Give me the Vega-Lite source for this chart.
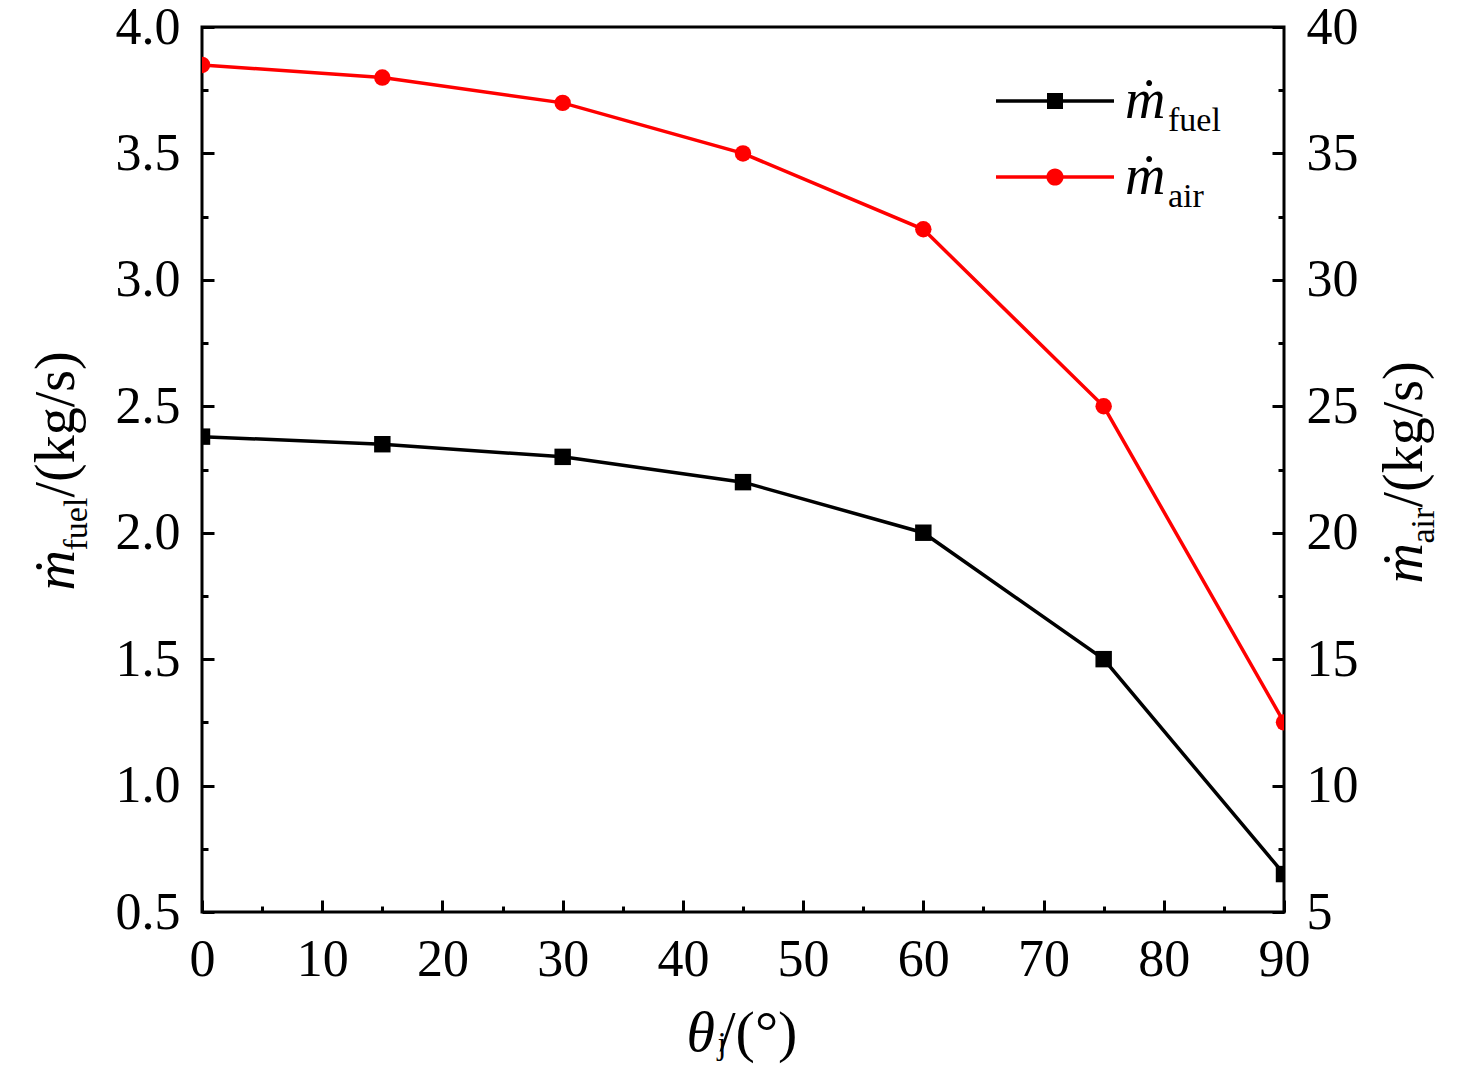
{
  "$schema": "https://vega.github.io/schema/vega-lite/v6.json",
  "autosize": {"type": "none"},
  "width": 1082,
  "height": 885,
  "padding": {"left": 202, "top": 27, "right": 192, "bottom": 159},
  "background": "#ffffff",
  "config": {
    "font": "Liberation Serif",
    "view": {"stroke": "#000000", "strokeWidth": 3},
    "axis": {
      "labelFont": "Liberation Serif",
      "labelFontSize": 52,
      "labelColor": "#000000",
      "tickColor": "#000000",
      "tickWidth": 3,
      "domain": false,
      "grid": false,
      "labelFlush": false,
      "labelOverlap": false,
      "titleFont": "Liberation Serif",
      "titleFontWeight": "normal",
      "titleColor": "#000000",
      "titleAlign": "left",
      "titleBaseline": "alphabetic"
    },
    "legend": {"labelColor": "#000000"}
  },
  "data": {
    "values": [
      {"theta": 0, "series": "fuel", "value": 2.38},
      {"theta": 15, "series": "fuel", "value": 2.35},
      {"theta": 30, "series": "fuel", "value": 2.30},
      {"theta": 45, "series": "fuel", "value": 2.20},
      {"theta": 60, "series": "fuel", "value": 2.00},
      {"theta": 75, "series": "fuel", "value": 1.50},
      {"theta": 90, "series": "fuel", "value": 0.65},
      {"theta": 0, "series": "air", "value": 38.5},
      {"theta": 15, "series": "air", "value": 38.0},
      {"theta": 30, "series": "air", "value": 37.0},
      {"theta": 45, "series": "air", "value": 35.0},
      {"theta": 60, "series": "air", "value": 32.0},
      {"theta": 75, "series": "air", "value": 25.0},
      {"theta": 90, "series": "air", "value": 12.5}
    ]
  },
  "layer": [
    {
      "transform": [{"filter": "datum.series == 'fuel'"}],
      "mark": {"type": "line", "color": "#000000", "strokeWidth": 3.5, "clip": true},
      "encoding": {
        "x": {"field": "theta", "type": "quantitative",
          "scale": {"domain": [0, 90], "nice": false, "zero": false},
          "axis": {"orient": "bottom", "values": [0, 10, 20, 30, 40, 50, 60, 70, 80, 90], "tickSize": -12, "labelPadding": 34,
            "title": "θ", "titleFontStyle": "italic", "titleFontSize": 58, "titleX": 484, "titleY": 138, "titleAngle": 0}},
        "y": {"field": "value", "type": "quantitative",
          "scale": {"domain": [0.5, 4], "nice": false, "zero": false},
          "axis": {"orient": "left", "values": [0.5, 1, 1.5, 2, 2.5, 3, 3.5, 4], "format": ".1f", "tickSize": -12, "labelPadding": 34,
            "title": "ṁ", "titleFontStyle": "italic", "titleFontSize": 56, "titleX": -129, "titleY": 563, "titleAngle": -90}},
        "opacity": {"field": "series", "type": "nominal", "sort": "descending", "scale": {"range": [1, 1]},
          "legend": {"title": null, "orient": "none", "legendX": 932, "legendY": 77, "padding": 0,
            "labelFont": "Liberation Serif", "labelFontSize": 34, "labelFontStyle": "normal", "labelBaseline": "middle",
            "symbolSize": 0, "symbolStrokeWidth": 0, "symbolOpacity": 0, "labelOffset": 0, "rowPadding": 42}}
      }
    },
    {
      "transform": [{"filter": "datum.series == 'fuel'"}],
      "mark": {"type": "point", "shape": "square", "filled": true, "size": 270, "opacity": 1, "clip": true},
      "encoding": {
        "x": {"field": "theta", "type": "quantitative",
          "scale": {"domain": [0, 90], "nice": false, "zero": false},
          "axis": {"orient": "bottom", "values": [5, 15, 25, 35, 45, 55, 65, 75, 85], "tickSize": -6, "labels": false,
            "title": "j", "titleFontStyle": "normal", "titleFontSize": 32, "titleX": 515, "titleY": 141, "titleAngle": 0}},
        "y": {"field": "value", "type": "quantitative",
          "scale": {"domain": [0.5, 4], "nice": false, "zero": false},
          "axis": {"orient": "left", "values": [0.75, 1.25, 1.75, 2.25, 2.75, 3.25, 3.75], "tickSize": -6, "labels": false,
            "title": "fuel", "titleFontStyle": "normal", "titleFontSize": 34, "titleX": -116, "titleY": 523, "titleAngle": -90}},
        "color": {"field": "series", "type": "nominal",
          "scale": {"domain": ["fuel", "air"], "range": ["#000000", "#ff0000"]},
          "legend": {"title": null, "orient": "none", "legendX": 825, "legendY": 46, "padding": 0,
            "symbolType": {"expr": "datum.value == 'fuel' ? 'M-2.95,-0.09H2.95V0.09H-2.95ZM-0.4,-0.4H0.4V0.4H-0.4Z' : 'M-2.95,-0.09H2.95V0.09H-2.95ZM-0.43,0A0.43,0.43 0 1,1 0.43,0A0.43,0.43 0 1,1 -0.43,0Z'"},
            "symbolSize": 1600, "symbolStrokeWidth": 0, "symbolOpacity": 1,
            "labelExpr": "'ṁ'", "labelFont": "Liberation Serif", "labelFontSize": 56, "labelFontStyle": "italic",
            "labelOffset": 42, "rowPadding": 20}}
      }
    },
    {
      "transform": [{"filter": "datum.series == 'air'"}],
      "mark": {"type": "line", "color": "#ff0000", "strokeWidth": 3.5, "clip": true},
      "encoding": {
        "x": {"field": "theta", "type": "quantitative",
          "scale": {"domain": [0, 90], "nice": false, "zero": false},
          "axis": {"orient": "bottom", "ticks": false, "labels": false, "domain": false,
            "title": "/(°)", "titleFontStyle": "normal", "titleFontSize": 58, "titleX": 517, "titleY": 138, "titleAngle": 0}},
        "y": {"field": "value", "type": "quantitative",
          "scale": {"domain": [5, 40], "nice": false, "zero": false},
          "axis": {"orient": "right", "values": [5, 10, 15, 20, 25, 30, 35, 40], "tickSize": -12, "labelPadding": 34,
            "title": "ṁ", "titleFontStyle": "italic", "titleFontSize": 56, "titleX": 137, "titleY": 556, "titleAngle": -90}},
        "opacity": {"field": "series", "type": "nominal", "sort": "descending", "scale": {"range": [1, 1]},
          "legend": {"title": null, "orient": "none", "legendX": 932, "legendY": 77, "padding": 0,
            "labelFont": "Liberation Serif", "labelFontSize": 34, "labelFontStyle": "normal", "labelBaseline": "middle",
            "symbolSize": 0, "symbolStrokeWidth": 0, "symbolOpacity": 0, "labelOffset": 0, "rowPadding": 42}}
      }
    },
    {
      "transform": [{"filter": "datum.series == 'air'"}],
      "mark": {"type": "point", "shape": "circle", "filled": true, "size": 270, "opacity": 1, "clip": true},
      "encoding": {
        "x": {"field": "theta", "type": "quantitative",
          "scale": {"domain": [0, 90], "nice": false, "zero": false}, "axis": null},
        "y": {"field": "value", "type": "quantitative",
          "scale": {"domain": [5, 40], "nice": false, "zero": false},
          "axis": {"orient": "right", "values": [7.5, 12.5, 17.5, 22.5, 27.5, 32.5, 37.5], "tickSize": -6, "labels": false,
            "title": "air", "titleFontStyle": "normal", "titleFontSize": 34, "titleX": 149, "titleY": 516, "titleAngle": -90}},
        "color": {"field": "series", "type": "nominal",
          "scale": {"domain": ["fuel", "air"], "range": ["#000000", "#ff0000"]},
          "legend": {"title": null, "orient": "none", "legendX": 825, "legendY": 46, "padding": 0,
            "symbolType": {"expr": "datum.value == 'fuel' ? 'M-2.95,-0.09H2.95V0.09H-2.95ZM-0.4,-0.4H0.4V0.4H-0.4Z' : 'M-2.95,-0.09H2.95V0.09H-2.95ZM-0.43,0A0.43,0.43 0 1,1 0.43,0A0.43,0.43 0 1,1 -0.43,0Z'"},
            "symbolSize": 1600, "symbolStrokeWidth": 0, "symbolOpacity": 1,
            "labelExpr": "'ṁ'", "labelFont": "Liberation Serif", "labelFontSize": 56, "labelFontStyle": "italic",
            "labelOffset": 42, "rowPadding": 20}}
      }
    },
    {
      "transform": [{"filter": "datum.series == 'none'"}],
      "mark": {"type": "point", "opacity": 1},
      "encoding": {
        "x": {"field": "theta", "type": "quantitative",
          "scale": {"domain": [0, 90], "nice": false, "zero": false}, "axis": null},
        "y": {"field": "value", "type": "quantitative",
          "scale": {"domain": [0.5, 4], "nice": false, "zero": false},
          "axis": {"orient": "left", "ticks": false, "labels": false, "domain": false,
            "title": "/(kg/s)", "titleFontStyle": "normal", "titleFontSize": 56, "titleX": -129, "titleY": 470, "titleAngle": -90}}
      }
    },
    {
      "transform": [{"filter": "datum.series == 'none'"}],
      "mark": {"type": "point", "opacity": 1},
      "encoding": {
        "x": {"field": "theta", "type": "quantitative",
          "scale": {"domain": [0, 90], "nice": false, "zero": false}, "axis": null},
        "y": {"field": "value", "type": "quantitative",
          "scale": {"domain": [5, 40], "nice": false, "zero": false},
          "axis": {"orient": "right", "ticks": false, "labels": false, "domain": false,
            "title": "/(kg/s)", "titleFontStyle": "normal", "titleFontSize": 56, "titleX": 137, "titleY": 480, "titleAngle": -90}}
      }
    }
  ],
  "resolve": {
    "scale": {"x": "independent", "y": "independent"},
    "axis": {"x": "independent", "y": "independent"}
  }
}
